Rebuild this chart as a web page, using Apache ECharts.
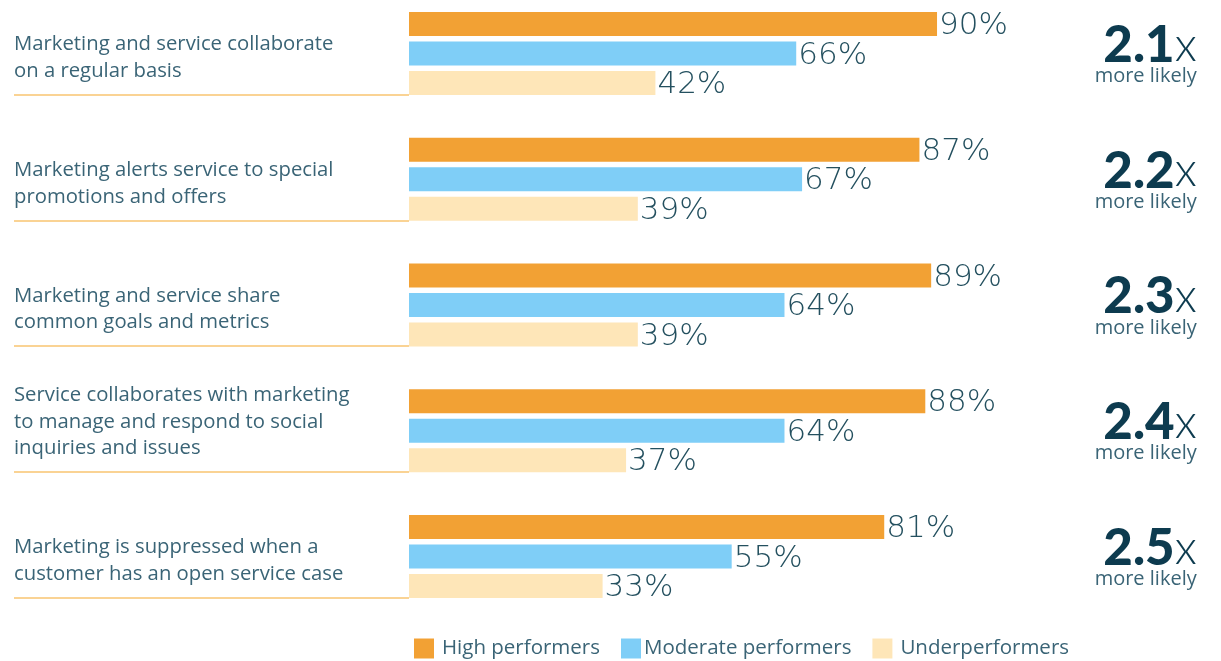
<!DOCTYPE html>
<html><head><meta charset="utf-8">
<script src="https://cdn.jsdelivr.net/npm/echarts@6/dist/echarts.min.js"></script>
<style>html,body{margin:0;padding:0;background:#fff}#c{width:1221px;height:661px}</style>
</head><body><div id="c"></div>
<script>
const categories = [
  'Marketing and service collaborate\non a regular basis',
  'Marketing alerts service to special\npromotions and offers',
  'Marketing and service share\ncommon goals and metrics',
  'Service collaborates with marketing\nto manage and respond to social\ninquiries and issues',
  'Marketing is suppressed when a\ncustomer has an open service case'
];
const seriesNames = ['High performers', 'Moderate performers', 'Underperformers'];
const high = [90, 87, 89, 88, 81];
const moderate = [66, 67, 64, 64, 55];
const under = [42, 39, 39, 37, 33];
const likelihood = ['2.1', '2.2', '2.3', '2.4', '2.5'];

const colors = ['#F2A134', '#7FCEF7', '#FEE6B8'];
const textColor = '#3a6476';
const chart = echarts.init(document.getElementById('c'));
const valueLabel = {
  show: true, position: 'right', distance: 2, formatter: '{c}%', offset: [0, 2],
  fontFamily: 'DejaVu Sans', fontWeight: 200, fontSize: 31, color: '#24505f'
};
function bar(name, data, color) {
  return {
    name, type: 'bar', data, xAxisIndex: 0, yAxisIndex: 0,
    barWidth: 24, barGap: '23%', itemStyle: { color },
    label: valueLabel, silent: true
  };
}
function leftLabel(v) {
  const lines = v.split('\n');
  while (lines.length < 3) lines.unshift(' ');
  return lines.map(l => '{t|' + l + '}').join('\n') + '\n{s| }';
}
const legendPad = [3, -2, 3];
chart.setOption({
  animation: false,
  legend: {
    left: 409, top: 633, itemWidth: 20, itemHeight: 20, itemGap: 21, icon: 'rect',
    textStyle: { fontFamily: 'Open Sans', fontSize: 20.5, color: textColor },
    data: seriesNames.map((n, i) => ({ name: n, textStyle: { padding: [0, 0, 0, legendPad[i]] } }))
  },
  grid: [
    { left: 409, width: 586.7, top: 53.5, height: 503 },
    { left: 14, width: 395, top: 94.5, height: 503 }
  ],
  xAxis: [
    { type: 'value', min: 0, max: 100, show: false, gridIndex: 0 },
    { type: 'value', min: 0, max: 100, show: false, gridIndex: 1 }
  ],
  yAxis: [
    {
      type: 'category', data: categories, inverse: true, gridIndex: 0, boundaryGap: false,
      axisLine: { show: false }, axisTick: { show: false }, splitLine: { show: false },
      axisLabel: {
        align: 'left', margin: 395, verticalAlign: 'middle', interval: 0,
        formatter: leftLabel,
        rich: {
          t: { fontFamily: 'Open Sans', fontSize: 20.3, lineHeight: 26.5, color: textColor },
          s: { fontSize: 2, lineHeight: 18 }
        }
      }
    },
    {
      type: 'category', data: categories, inverse: true, gridIndex: 0, position: 'right', boundaryGap: false,
      axisLine: { show: false }, axisTick: { show: false }, splitLine: { show: false },
      axisLabel: {
        align: 'right', margin: 201, verticalAlign: 'middle', interval: 0,
        formatter: (v, i) => '{s| }\n{n|' + likelihood[i] + '}{x|x}\n{m|more likely}',
        rich: {
          s: { fontSize: 2, lineHeight: 6 },
          n: { fontFamily: 'Lato', fontWeight: 900, fontSize: 51, color: '#0d3b4f', lineHeight: 40 },
          x: { fontFamily: 'Lato', fontWeight: 300, fontSize: 47, color: '#0d3b4f', lineHeight: 40 },
          m: { fontFamily: 'Open Sans', fontSize: 20, color: textColor, lineHeight: 22 }
        }
      }
    },
    {
      type: 'category', data: categories, gridIndex: 1, boundaryGap: false,
      axisLine: { show: false }, axisTick: { show: false }, axisLabel: { show: false },
      splitLine: { show: true, interval: 0, lineStyle: { color: '#F8C471', width: 1.5 } }
    }
  ],
  series: [
    bar(seriesNames[0], high, colors[0]),
    bar(seriesNames[1], moderate, colors[1]),
    bar(seriesNames[2], under, colors[2])
  ]
});
</script></body></html>
